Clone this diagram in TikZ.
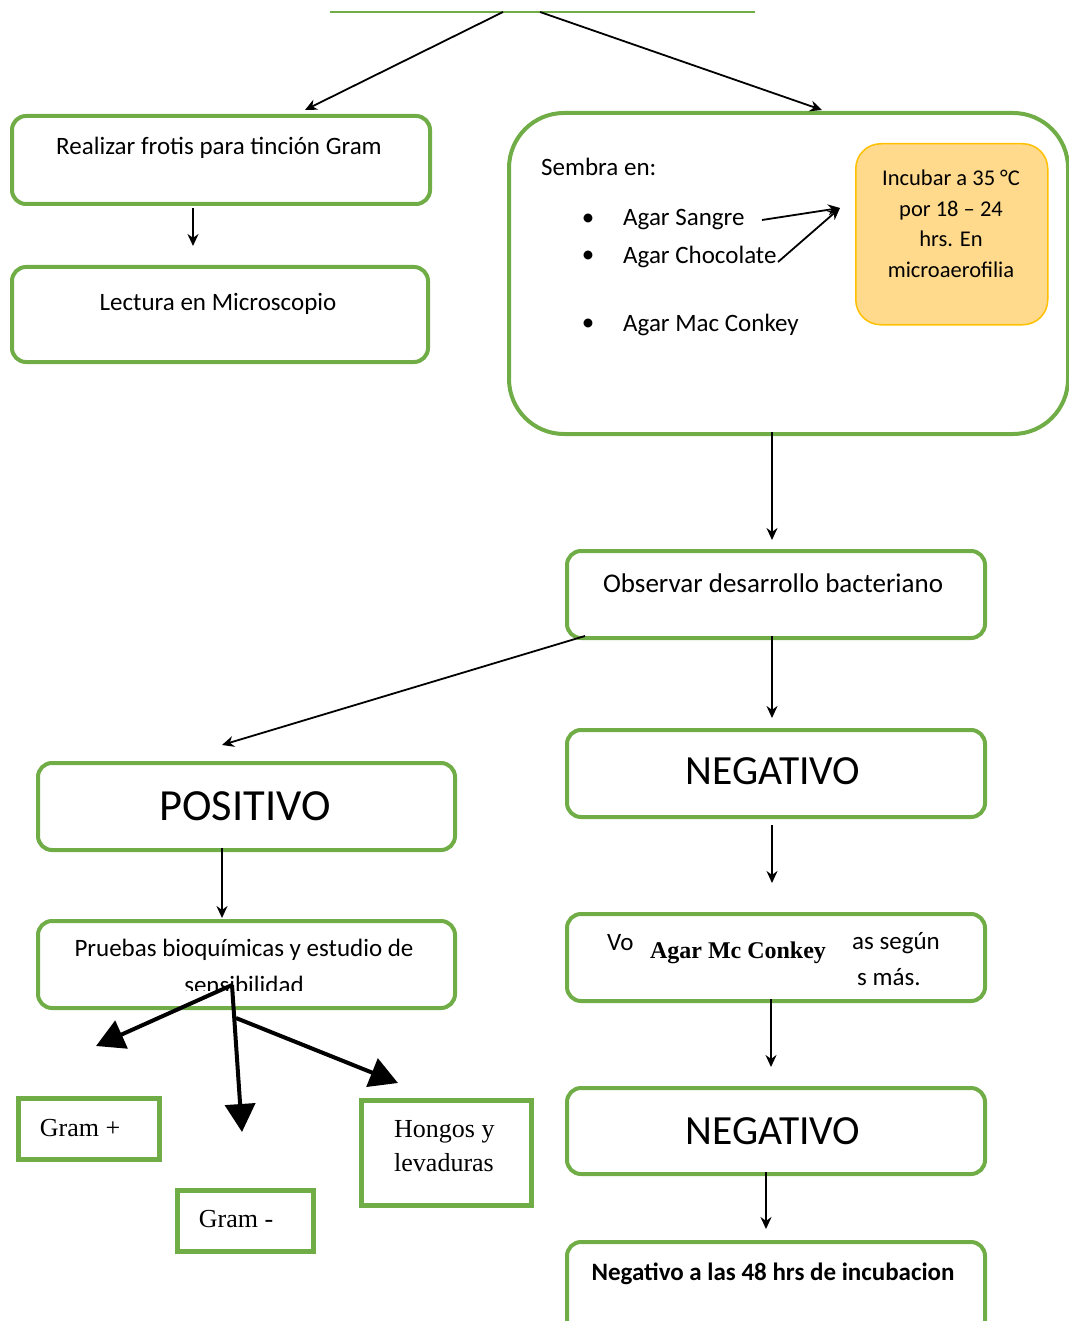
\documentclass[tikz,border=0pt]{standalone}
\usepackage{fontspec}
\setmainfont{Carlito}
\newfontfamily\timesf{Liberation Serif}
\usetikzlibrary{arrows.meta,calc}
\definecolor{gr}{HTML}{70AD47}
\definecolor{org}{HTML}{FFD98C}
\definecolor{orgb}{HTML}{FFC000}
\begin{document}
\begin{tikzpicture}[x=1pt,y=-1pt,
 rbox/.style={draw=gr,line width=4pt,rounded corners=14pt,anchor=north west,inner sep=0pt},
 sbox/.style={draw=gr,line width=5pt,anchor=north west,inner sep=0pt},
 arr/.style={-{Stealth[length=12pt,width=11pt]},line width=1.8pt},
 bigarr/.style={-{Triangle[length=28pt,width=30pt]},line width=4pt},
 txt/.style={font=\fontsize{25}{30}\selectfont,inner sep=0pt},
 big/.style={font=\fontsize{42}{50}\selectfont,inner sep=0pt},
 tms/.style={font=\timesf\fontsize{26}{34}\selectfont,inner sep=0pt}]
\useasboundingbox (0,0) rectangle (1068,1321);
% top line
\coordinate (tl) at (330,12);
\coordinate (tr) at (755,12);
\draw[gr,line width=1.5pt] (tl) -- (tr);
\coordinate (s1) at (503,12);
\coordinate (s2) at (540,12);
% left column top
\node[rbox,minimum width=418pt,minimum height=88pt] (b1) at (10,114) {};
\node[txt] (t1) at (219,148) {Realizar frotis para tinción Gram};
\node[rbox,minimum width=416pt,minimum height=95pt] (b2) at (10,265) {};
\node[txt] (t2) at (218,304) {Lectura en Microscopio};
% big box
\node[rbox,rounded corners=55pt,minimum width=559pt,minimum height=321pt] (bb) at (507,111) {};
\node[txt,anchor=west] (sem) at (541,167) {Sembra en:};
\node[txt] (bu1) at (588,220) {•};
\node[txt] (bu2) at (588,257) {•};
\node[txt] (bu3) at (588,325) {•};
\node[txt,anchor=west] (ag1) at (623,220) {Agar Sangre};
\node[txt,anchor=west] (ag2) at (623,257) {Agar Chocolate};
\node[txt,anchor=west] (ag3) at (623,325) {Agar Mac Conkey};
\node[draw=orgb,fill=org,line width=1.5pt,rounded corners=25pt,minimum width=192pt,minimum height=181pt,anchor=north west] (inc) at (855,143) {};
\node[font=\fontsize{22.5}{30.5}\selectfont,align=center,inner sep=0pt] (inct) at (951,224) {Incubar a 35 °C\\por 18 – 24\\hrs. En\\microaerofilia};
\coordinate (ia) at (762,220);
\coordinate (ib) at (778,262);
\coordinate (ic) at (840,208);
\draw[arr] (ia) -- (ic);
\draw[arr] (ib) -- (ic);
% right column
\node[rbox,minimum width=418pt,minimum height=87pt] (obs) at (565,549) {};
\node[txt,font=\fontsize{27}{32}\selectfont] (obst) at (773,583) {Observar desarrollo bacteriano};
\node[rbox,minimum width=418pt,minimum height=87pt] (neg1) at (565,728) {};
\node[big,font=\fontsize{41.5}{48}\selectfont] (neg1t) at (773,771) {NEGATIVO};
\node[rbox,minimum width=418pt,minimum height=87pt] (vo) at (565,912) {};
\node[txt,anchor=west] (vo1) at (607,943) {Vo};
\node[txt,anchor=east] (vo2) at (940,943) {as según};
\node[txt,anchor=west] (vo3) at (857,977) {s más.};
\node[font=\timesf\bfseries\fontsize{24}{28}\selectfont,inner sep=0pt] (mc) at (738,953) {Agar Mc Conkey};
\node[rbox,minimum width=418pt,minimum height=86pt] (neg2) at (565,1086) {};
\node[big,font=\fontsize{41.5}{48}\selectfont] (neg2t) at (773,1131) {NEGATIVO};
\node[rbox,minimum width=418pt,minimum height=95pt] (fin) at (565,1240) {};
\node[txt,font=\bfseries\fontsize{25}{30}\selectfont] (fint) at (773,1274) {Negativo a las 48 hrs de incubacion};
% left lower column
\node[rbox,minimum width=417pt,minimum height=87pt] (pos) at (36,761) {};
\node[big,font=\fontsize{44.5}{52}\selectfont] (post) at (245,806) {POSITIVO};
\node[rbox,minimum width=417pt,minimum height=87pt] (pr) at (36,919) {};
\node[txt] (prt1) at (244,950) {Pruebas bioquímicas y estudio de};
\begin{scope}
\clip (40,962) rectangle (450,990);
\node[txt] (prt2) at (244,985) {sensibilidad};
\end{scope}
% small boxes
\node[sbox,minimum width=141pt,minimum height=61pt] (gp) at (16,1096) {};
\node[tms] (gpt) at (80,1128) {Gram +};
\node[sbox,minimum width=136pt,minimum height=61pt] (gm) at (175,1188) {};
\node[tms] (gmt) at (236,1219) {Gram -};
\node[sbox,minimum width=170pt,minimum height=105pt] (hg) at (359,1098) {};
\node[tms,align=left,anchor=west,font=\timesf\fontsize{26}{34.5}\selectfont] (hgt) at (394,1146) {Hongos y\\levaduras};
% connectors
\coordinate (e1) at (305,110);
\coordinate (e2) at (822,110);
\draw[arr] (s1) -- (e1);
\draw[arr] (s2) -- (e2);
\coordinate (a1) at (193,208);
\coordinate (a2) at (193,246);
\draw[arr] (a1) -- (a2);
\coordinate (c1) at (772,432);
\coordinate (c2) at (772,540);
\draw[arr] (c1) -- (c2);
\coordinate (d1) at (585,636);
\coordinate (d2) at (222,745);
\draw[arr] (d1) -- (d2);
\coordinate (f1) at (772,636);
\coordinate (f2) at (772,718);
\draw[arr] (f1) -- (f2);
\coordinate (g1) at (222,848);
\coordinate (g2) at (222,918);
\draw[arr] (g1) -- (g2);
\coordinate (h1) at (772,825);
\coordinate (h2) at (772,883);
\draw[arr] (h1) -- (h2);
\coordinate (i1) at (771,999);
\coordinate (i2) at (771,1067);
\draw[arr] (i1) -- (i2);
\coordinate (j1) at (766,1172);
\coordinate (j2) at (766,1229);
\draw[arr] (j1) -- (j2);
% thick arrows
\coordinate (k0) at (232,985);
\coordinate (k1) at (96,1046);
\coordinate (k2) at (242,1132);
\coordinate (k3) at (236,1018);
\coordinate (k4) at (398,1083);
\draw[bigarr] (k0) -- (k1);
\draw[bigarr] (k0) -- (k2);
\draw[bigarr] (k3) -- (k4);
\end{tikzpicture}
\end{document}
